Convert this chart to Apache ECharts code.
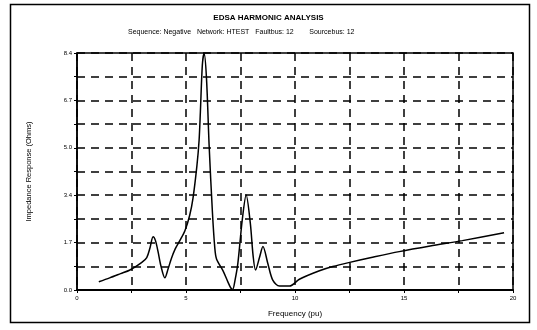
<!DOCTYPE html>
<html><head><meta charset="utf-8">
<script src="https://cdn.jsdelivr.net/npm/echarts@6/dist/echarts.min.js"></script>
<style>html,body{margin:0;padding:0;background:#fff}#c{width:537px;height:330px}</style>
</head><body><div id="c"></div>
<script>
const titleText = "EDSA HARMONIC ANALYSIS";
const subtitleText = "Sequence: Negative   Network: HTEST   Faultbus: 12        Sourcebus: 12";
const xAxisName = "Frequency (pu)";
const yAxisName = "Impedance Response (Ohms)";
const xTicks = [0, 5, 10, 15, 20];
const yTicks = [0.0, 1.68, 3.36, 5.04, 6.72, 8.4];
const frequency = [1.0,1.5,2.0,2.43,2.96,3.2,3.35,3.49,3.6,3.72,3.85,4.03,4.18,4.33,4.5,4.71,4.95,5.17,5.32,5.5,5.6,5.66,5.75,5.83,5.94,6.06,6.21,6.32,6.4,6.7,6.92,7.05,7.14,7.25,7.38,7.58,7.76,7.95,8.08,8.19,8.38,8.53,8.75,8.98,9.29,9.75,10.2,11.12,11.73,12.46,13.5,14.78,16.2,17.68,19.59];
const impedance = [0.29,0.43,0.58,0.71,0.97,1.15,1.5,1.89,1.75,1.35,0.85,0.43,0.75,1.12,1.45,1.74,2.1,2.65,3.25,4.4,5.3,6.32,7.98,8.39,7.5,5.14,2.78,1.5,1.1,0.68,0.29,0.08,0.02,0.35,0.95,2.48,3.37,2.37,1.2,0.71,1.18,1.54,0.95,0.35,0.14,0.14,0.38,0.68,0.83,0.97,1.15,1.36,1.56,1.75,2.03];

const chart = echarts.init(document.getElementById('c'), null, {renderer:'canvas'});
const font = 'Liberation Sans, Arial, sans-serif';
const yStep = 0.84;
chart.setOption({
  animation:false,
  backgroundColor:'#fff',
  graphic:[
    {type:'rect', shape:{x:10.5,y:4.5,width:519,height:318}, style:{fill:'none', stroke:'#000', lineWidth:1.5}},
    {type:'text', left:'center', top:14, style:{text:titleText, font:'bold 8px '+font, fill:'#000'}},
    {type:'text', x:128, y:29, style:{text:subtitleText, font:'7px '+font, fill:'#000'}}
  ],
  grid:{left:77, top:53, right:24, bottom:40, show:true, borderColor:'#000', borderWidth:1.5, backgroundColor:'transparent'},
  xAxis:{
    type:'value', min:xTicks[0], max:xTicks[xTicks.length-1], interval:2.5,
    name:xAxisName, nameLocation:'middle', nameGap:20,
    nameTextStyle:{fontFamily:font, fontSize:8, color:'#000'},
    axisLine:{lineStyle:{color:'#000', width:2}},
    axisTick:{show:true, length:3, lineStyle:{color:'#000'}},
    axisLabel:{fontFamily:font, fontSize:6, color:'#000', margin:5,
      formatter:v=> xTicks.indexOf(v) >= 0 ? String(v) : ''},
    splitLine:{show:true, lineStyle:{color:'#000', width:1.5, type:[8,6]}}
  },
  yAxis:{
    type:'value', min:0, max:yTicks[yTicks.length-1], interval:yStep,
    name:yAxisName, nameLocation:'middle', nameGap:44, nameRotate:90,
    nameTextStyle:{fontFamily:font, fontSize:7.5, color:'#000'},
    axisLine:{show:true, lineStyle:{color:'#000', width:1.5}},
    axisTick:{show:true, length:3, lineStyle:{color:'#000'}},
    axisLabel:{fontFamily:font, fontSize:6, color:'#000', margin:5,
      formatter:v=>{ const k=Math.round(v/yStep); return k%2===0 ? yTicks[k/2].toFixed(1) : ''; }},
    splitLine:{show:true, lineStyle:{color:'#000', width:1.5, type:[8,6]}}
  },
  series:[{
    type:'line', showSymbol:false, smooth:0.3,
    lineStyle:{color:'#000', width:1.5},
    data: frequency.map((f,i)=>[f, impedance[i]])
  }]
});
</script></body></html>
